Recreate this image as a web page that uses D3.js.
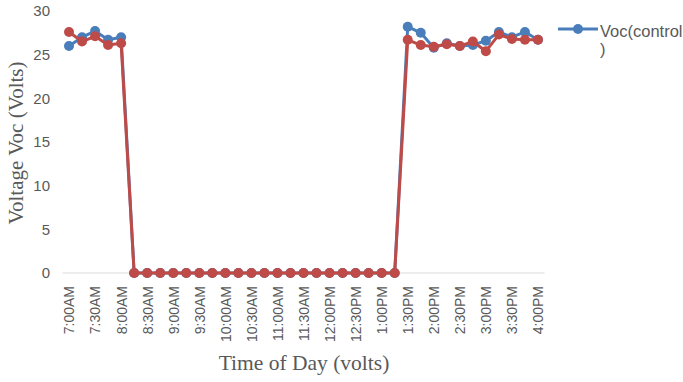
<!DOCTYPE html>
<html>
<head>
<meta charset="utf-8">
<script src="https://cdn.jsdelivr.net/npm/d3@7"></script>
<style>
  body { margin: 0; background: #fff; }
  text { fill: #595959; }
</style>
</head>
<body>
<script>
// categories every 15 minutes, 7:00AM to 4:00PM
const times = ['7:00AM','7:15AM','7:30AM','7:45AM','8:00AM','8:15AM','8:30AM','8:45AM','9:00AM','9:15AM',
  '9:30AM','9:45AM','10:00AM','10:15AM','10:30AM','10:45AM','11:00AM','11:15AM','11:30AM','11:45AM',
  '12:00PM','12:15PM','12:30PM','12:45PM','1:00PM','1:15PM','1:30PM','1:45PM','2:00PM','2:15PM',
  '2:30PM','2:45PM','3:00PM','3:15PM','3:30PM','3:45PM','4:00PM'];

const vocControl = [26.0, 27.0, 27.7, 26.7, 27.0, 0, 0, 0, 0, 0, 0, 0, 0, 0, 0, 0, 0, 0, 0, 0,
  0, 0, 0, 0, 0, 0, 28.2, 27.5, 25.8, 26.3, 26.0, 26.1, 26.6, 27.6, 27.0, 27.6, 26.7];
const vocTest = [27.6, 26.5, 27.1, 26.1, 26.3, 0, 0, 0, 0, 0, 0, 0, 0, 0, 0, 0, 0, 0, 0, 0,
  0, 0, 0, 0, 0, 0, 26.7, 26.1, 25.9, 26.2, 26.0, 26.5, 25.4, 27.3, 26.8, 26.7, 26.7];

const yTicks = [0, 5, 10, 15, 20, 25, 30];

const width = 683, height = 382;
const sans = '"Liberation Sans", Arial, sans-serif';
const serif = '"Liberation Serif", "Times New Roman", serif';

const svg = d3.select('body').append('svg')
  .attr('width', width)
  .attr('height', height);

const x = d3.scalePoint()
  .domain(times)
  .range([62.5, 544.5])
  .padding(0.5);

const y = d3.scaleLinear()
  .domain([0, 30])
  .range([273, 11]);

// baseline
svg.append('line')
  .attr('x1', 62.5).attr('x2', 544.5)
  .attr('y1', y(0)).attr('y2', y(0))
  .attr('stroke', '#d9d9d9')
  .attr('stroke-width', 1);

// y axis labels
const yAxis = svg.append('g')
  .attr('transform', 'translate(50,0)')
  .call(d3.axisLeft(y).tickValues(yTicks).tickSize(0).tickPadding(0));
yAxis.select('.domain').remove();
yAxis.selectAll('text')
  .attr('font-family', sans)
  .attr('font-size', 15)
  .style('fill', '#595959');

// x axis labels, every second category
const xAxis = svg.append('g')
  .attr('transform', `translate(0,${y(0)})`)
  .call(d3.axisBottom(x).tickValues(times.filter((d, i) => i % 2 === 0)).tickSize(0));
xAxis.select('.domain').remove();
xAxis.selectAll('text')
  .attr('font-family', sans)
  .attr('font-size', 14)
  .attr('transform', 'rotate(-90)')
  .attr('text-anchor', 'end')
  .attr('x', -13)
  .attr('y', 0)
  .attr('dy', '0.35em')
  .style('fill', '#595959');

// axis titles
svg.append('text')
  .attr('transform', 'translate(23,143) rotate(-90)')
  .attr('text-anchor', 'middle')
  .attr('font-family', serif)
  .attr('font-size', 21)
  .text('Voltage Voc (Volts)');

svg.append('text')
  .attr('x', 304)
  .attr('y', 370)
  .attr('text-anchor', 'middle')
  .attr('font-family', serif)
  .attr('font-size', 21.5)
  .text('Time of Day (volts)');

// series
const series = [
  { name: 'Voc(control)', values: vocControl, color: '#4a7ebb' },
  { name: 'Voc(test)', values: vocTest, color: '#be4b48' }
];

const line = d3.line()
  .x((d, i) => x(times[i]))
  .y(d => y(d));

series.forEach(s => {
  const g = svg.append('g');
  g.append('path')
    .datum(s.values)
    .attr('fill', 'none')
    .attr('stroke', s.color)
    .attr('stroke-width', 3)
    .attr('stroke-linejoin', 'round')
    .attr('d', line);
  g.selectAll('circle')
    .data(s.values)
    .enter().append('circle')
    .attr('cx', (d, i) => x(times[i]))
    .attr('cy', d => y(d))
    .attr('r', 5)
    .attr('fill', s.color);
});

// legend (only first entry is visible in the original)
const leg = svg.append('g').attr('transform', 'translate(558,29)');
leg.append('line')
  .attr('x1', 0).attr('x2', 40)
  .attr('stroke', series[0].color)
  .attr('stroke-width', 3);
leg.append('circle')
  .attr('cx', 20).attr('r', 5)
  .attr('fill', series[0].color);
leg.append('text')
  .attr('x', 42).attr('y', 8)
  .attr('font-family', sans)
  .attr('font-size', 16.5)
  .text('Voc(control');
leg.append('text')
  .attr('x', 42).attr('y', 26)
  .attr('font-family', sans)
  .attr('font-size', 16.5)
  .text(')');
</script>
</body>
</html>
